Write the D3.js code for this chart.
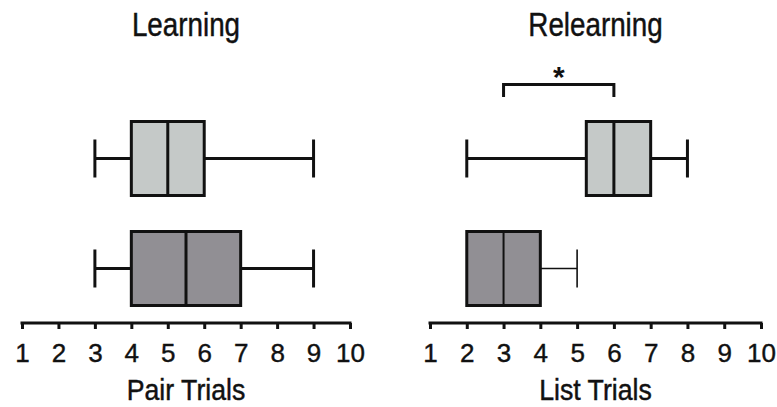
<!DOCTYPE html>
<html>
<head>
<meta charset="utf-8">
<script src="https://cdn.jsdelivr.net/npm/d3@7"></script>
<style>
  html, body { margin: 0; padding: 0; background: #fff; }
  svg { display: block; }
</style>
</head>
<body>
<svg id="chart" width="777" height="407"></svg>
<script>
// Panel titles and axis labels
const panelTitles = ["Learning", "Relearning"];
const axisLabels = ["Pair Trials", "List Trials"];
const tickValues = [1, 2, 3, 4, 5, 6, 7, 8, 9, 10];
const groups = ["upper", "lower"];

// Five-number summaries per group: [min, q1, median, q3, max]
const learningUpper   = [3, 4, 5, 6, 9];
const learningLower   = [3, 4, 5.5, 7, 9];
const relearningUpper = [2, 5.25, 6, 7, 8];
const relearningLower = [2, 2, 3, 4, 5];

// Significance bracket on the Relearning panel (between the two medians)
const bracketRange = [3, 6];
const bracketLabel = "*";

const summaries = [
  [learningUpper, learningLower],
  [relearningUpper, relearningLower]
];

const fills = { upper: "#c5c9c8", lower: "#918f94" };
const ink = "#111";
const font = "'Liberation Sans', Arial, Helvetica, sans-serif";

const svg = d3.select("#chart");

const panels = [
  { x0: 22, x1: 350, cx: 186 },
  { x0: 430, x1: 761, cx: 595.5 }
];

const axisY = 323;
const y = d3.scalePoint().domain(groups).range([158.5, 268.5]);
const boxH = 74;
const capH = 38;

// condensed text: horizontally squeezed glyphs
function label(g, txt, cx, by, size, sx) {
  return g.append("text")
    .attr("transform", `translate(${cx},${by}) scale(${sx},1)`)
    .attr("text-anchor", "middle")
    .style("font-family", font)
    .style("font-size", size + "px")
    .style("fill", ink)
    .style("stroke", ink)
    .style("stroke-width", 0.45)
    .text(txt);
}

panels.forEach((p, i) => {
  const x = d3.scaleLinear().domain([1, 10]).range([p.x0, p.x1]);
  const g = svg.append("g");

  // title
  label(g, panelTitles[i], p.cx, 36, 33.5, 0.83);

  // boxes
  groups.forEach((grp, j) => {
    const [mn, q1, med, q3, mx] = summaries[i][j];
    const cy = y(grp);
    const thin = (i === 1 && j === 1);
    const wW = thin ? 1.6 : 3;
    const bg = g.append("g");

    if (mn < q1) {
      bg.append("line").attr("x1", x(mn)).attr("x2", x(q1)).attr("y1", cy).attr("y2", cy)
        .attr("stroke", ink).attr("stroke-width", wW);
      bg.append("line").attr("x1", x(mn)).attr("x2", x(mn)).attr("y1", cy - capH / 2).attr("y2", cy + capH / 2)
        .attr("stroke", ink).attr("stroke-width", wW);
    }
    if (mx > q3) {
      bg.append("line").attr("x1", x(q3)).attr("x2", x(mx)).attr("y1", cy).attr("y2", cy)
        .attr("stroke", ink).attr("stroke-width", wW);
      bg.append("line").attr("x1", x(mx)).attr("x2", x(mx)).attr("y1", cy - capH / 2).attr("y2", cy + capH / 2)
        .attr("stroke", ink).attr("stroke-width", wW);
    }
    bg.append("rect")
      .attr("x", x(q1)).attr("y", cy - boxH / 2)
      .attr("width", x(q3) - x(q1)).attr("height", boxH)
      .attr("fill", fills[grp]).attr("stroke", ink).attr("stroke-width", 3);
    bg.append("line").attr("x1", x(med)).attr("x2", x(med))
      .attr("y1", cy - boxH / 2).attr("y2", cy + boxH / 2)
      .attr("stroke", ink).attr("stroke-width", thin ? 2 : 3);
  });

  // axis
  const axis = d3.axisBottom(x).tickValues(tickValues).tickSize(6).tickSizeOuter(0).tickFormat(d3.format("d"));
  const ag = g.append("g").attr("transform", `translate(0,${axisY})`).call(axis);
  ag.select(".domain").attr("stroke", ink).attr("stroke-width", 3)
    .attr("d", `M${p.x0 - 1.5},0H${p.x1 + 1.5}`);
  ag.selectAll(".tick line").attr("stroke", ink).attr("stroke-width", 3);
  ag.selectAll(".tick text")
    .attr("y", 39).attr("dy", null)
    .style("font-family", font)
    .style("font-size", "26px")
    .style("fill", ink)
    .style("stroke", ink)
    .style("stroke-width", 0.4);

  // axis label
  label(g, axisLabels[i], p.cx, 400, 29, 0.92);

  // significance bracket
  if (i === 1) {
    const bx0 = x(bracketRange[0]), bx1 = x(bracketRange[1]);
    g.append("path")
      .attr("d", `M${bx0},97V84.5H${bx1}V97`)
      .attr("fill", "none").attr("stroke", ink).attr("stroke-width", 3);
    g.append("text")
      .attr("x", (bx0 + bx1) / 2).attr("y", 86.5)
      .attr("text-anchor", "middle")
      .style("font-family", font)
      .style("font-size", "30px")
      .style("font-weight", "bold")
      .style("fill", ink)
      .text(bracketLabel);
  }
});
</script>
</body>
</html>
